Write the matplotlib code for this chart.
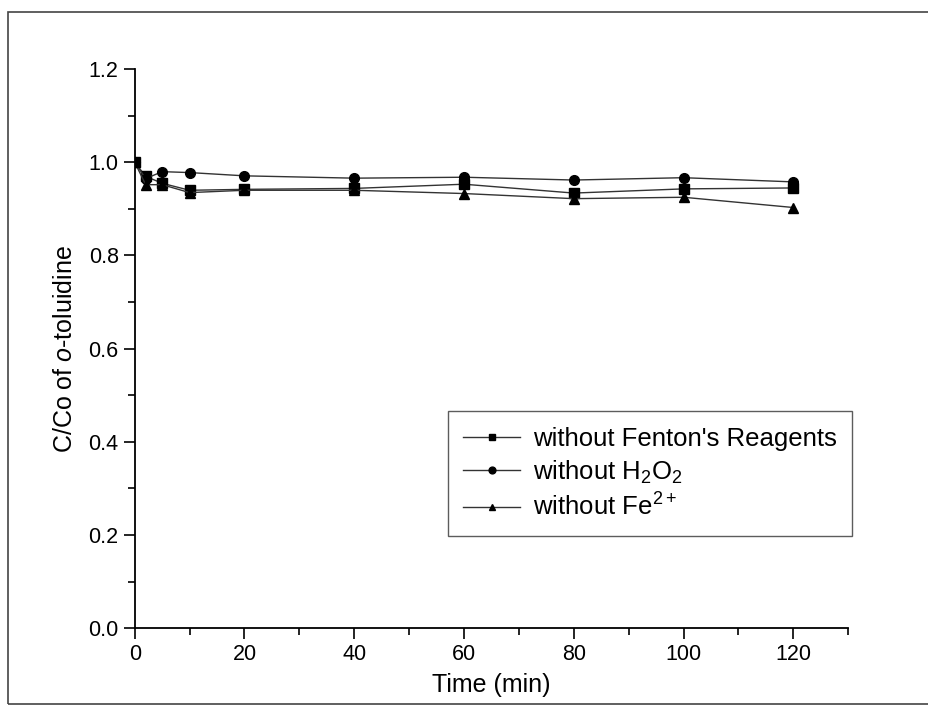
import matplotlib.pyplot as plt
from matplotlib.patches import Rectangle
from matplotlib.ticker import MultipleLocator

plt.rcParams['font.family'] = ['Liberation Sans', 'DejaVu Sans']
plt.rcParams['mathtext.fontset'] = 'custom'
plt.rcParams['mathtext.rm'] = 'Liberation Sans'
plt.rcParams['mathtext.it'] = 'Liberation Sans:italic'

# Data
time_min = [0, 2, 5, 10, 20, 40, 60, 80, 100, 120]
no_fenton = [1.0, 0.97, 0.955, 0.94, 0.942, 0.944, 0.953, 0.934, 0.943, 0.945]
no_h2o2 = [1.0, 0.965, 0.98, 0.978, 0.971, 0.966, 0.968, 0.962, 0.967, 0.958]
no_fe = [1.0, 0.952, 0.952, 0.935, 0.94, 0.94, 0.933, 0.922, 0.925, 0.903]

labels = ["without Fenton's Reagents", "without H$_2$O$_2$", "without Fe$^{2+}$"]

fig = plt.figure(figsize=(9.29, 7.13), dpi=100)
ax = fig.add_axes([0.145, 0.119, 0.768, 0.784])

# outer frame of the scanned figure
fig.patches.append(Rectangle((0.009, 0.012), 1.2, 0.971, transform=fig.transFigure,
                             fill=False, edgecolor='#444444', linewidth=1.2))

ax.plot(time_min, no_fenton, '-s', color='#333333', mfc='black', mec='black',
        ms=7, lw=1.0, label=labels[0])
ax.plot(time_min, no_h2o2, '-o', color='#333333', mfc='black', mec='black',
        ms=7, lw=1.0, label=labels[1])
ax.plot(time_min, no_fe, '-^', color='#333333', mfc='black', mec='black',
        ms=7, lw=1.0, label=labels[2])

ax.set_xlim(0, 130)
ax.set_ylim(0, 1.2)
ax.xaxis.set_major_locator(MultipleLocator(20))
ax.xaxis.set_minor_locator(MultipleLocator(10))
ax.yaxis.set_major_locator(MultipleLocator(0.2))
ax.yaxis.set_minor_locator(MultipleLocator(0.1))
ax.set_xticks([0, 20, 40, 60, 80, 100, 120])
ax.set_yticklabels([f"{v:.1f}" for v in ax.get_yticks()])

for s in ['top', 'right']:
    ax.spines[s].set_visible(False)
for s in ['left', 'bottom']:
    ax.spines[s].set_linewidth(1.3)

ax.tick_params(which='major', direction='out', length=8, width=1.2, labelsize=15.5)
ax.tick_params(which='minor', direction='out', length=5, width=1.2)

ax.set_xlabel("Time (min)", fontsize=18, labelpad=6)
ax.set_ylabel("C/Co of $\\it{o}$-toluidine", fontsize=18, labelpad=8)

leg = ax.legend(loc='upper left', bbox_to_anchor=(0.439, 0.388), borderaxespad=0,
                fontsize=18.5, frameon=True, fancybox=False, edgecolor='#333333',
                handlelength=2.2, handletextpad=0.5, markerscale=0.7,
                labelspacing=0.3, borderpad=0.6)
leg.get_frame().set_linewidth(1.0)

fig.savefig("out.png", dpi=100)
